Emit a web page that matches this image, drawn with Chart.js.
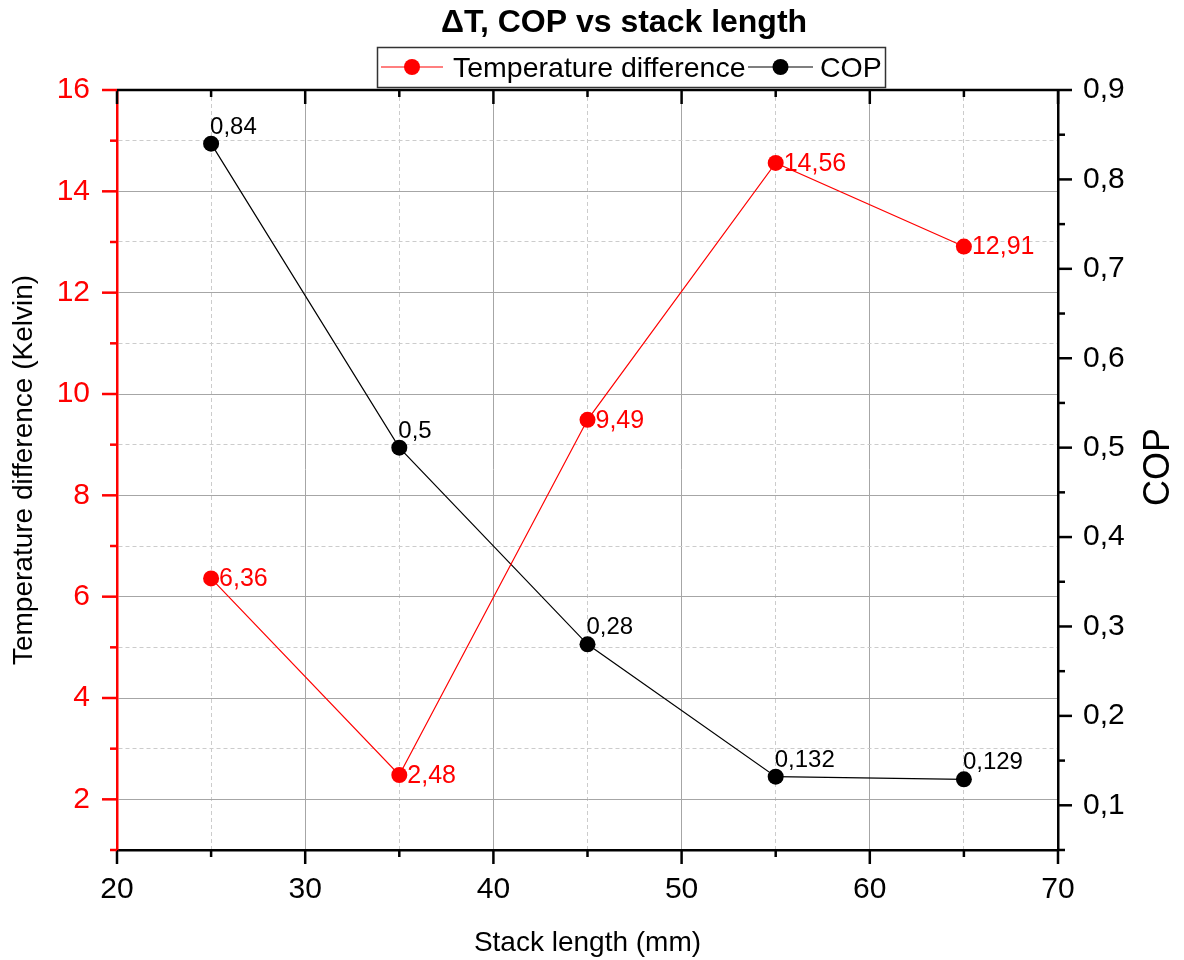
<!DOCTYPE html>
<html>
<head>
<meta charset="utf-8">
<title>dT, COP vs stack length</title>
<script src="https://cdn.jsdelivr.net/npm/chart.js@4.4.0/dist/chart.umd.min.js"></script>
<style>
  body { margin: 0; background: #fff; }
  #wrap { width: 1184px; height: 960px; }
</style>
</head>
<body>
<div id="wrap"><canvas id="chart" width="1184" height="960"></canvas></div>
<script>
'use strict'

// data
const stackLength = [25, 35, 45, 55, 65];
const tempDiff = [6.36, 2.48, 9.49, 14.56, 12.91];
const cop = [0.84, 0.5, 0.28, 0.132, 0.129];

const seriesNames = ['Temperature difference', 'COP'];
const chartTitle = '\u0394T, COP vs stack length';
const xRange = [20, 70];
const tempRange = [1, 16];
const copRange = [0.05, 0.9];

const FONT = "'Liberation Sans', Arial, sans-serif";
Chart.defaults.font.family = FONT;

const majorGrid = '#a6a6a6';
const minorGrid = '#cccccc';

const toComma = (v) => String(v).replace('.', ',');

// gridline look for major / minor ticks
function gridColor(isMajor) {
  return (c) => (c.tick && !isMajor(c.tick.value) ? minorGrid : majorGrid);
}
function gridDash(isMajor) {
  return (c) => (c.tick && !isMajor(c.tick.value) ? [4, 3] : []);
}

const xMajor = (v) => v % 10 === 0;
const yMajor = (v) => v % 2 === 0;
const y1Major = (v) => Math.round(v * 100) % 10 === 0;

// title, tick marks, top frame, legend box and right title
const decor = {
  id: 'decor',
  afterDraw(chart) {
    const {ctx, chartArea: a, scales} = chart;
    ctx.save();

    // title (sits a bit right of centre in the original)
    ctx.font = 'bold 32px ' + FONT;
    ctx.fillStyle = '#000';
    ctx.textAlign = 'center';
    ctx.textBaseline = 'middle';
    ctx.fillText(chartTitle, 624, 23);

    ctx.lineWidth = 2.5;
    const line = (x1, y1, x2, y2, color) => {
      ctx.strokeStyle = color;
      ctx.beginPath();
      ctx.moveTo(x1, y1);
      ctx.lineTo(x2, y2);
      ctx.stroke();
    };
    line(a.left, a.top, a.right, a.top, '#000');

    scales.x.ticks.forEach(t => {
      const px = scales.x.getPixelForValue(t.value);
      const len = xMajor(t.value) ? 14 : 7;
      line(px, a.bottom, px, a.bottom + len, '#000');
      line(px, a.top, px, a.top + len, '#000');
    });
    scales.y.ticks.forEach(t => {
      const py = scales.y.getPixelForValue(t.value);
      const len = yMajor(t.value) ? 15 : 7;
      line(a.left - len, py, a.left, py, '#ff0000');
    });
    scales.y1.ticks.forEach(t => {
      const py = scales.y1.getPixelForValue(t.value);
      const len = y1Major(t.value) ? 14 : 7;
      line(a.right, py, a.right + len, py, '#000');
    });

    // legend
    ctx.lineWidth = 1.5;
    ctx.strokeStyle = '#333';
    ctx.strokeRect(377.5, 47.5, 508, 40);
    const items = [
      {x0: 381, x1: 443, text: 453},
      {x0: 748, x1: 813, text: 820},
    ];
    ctx.font = '28.5px ' + FONT;
    ctx.textBaseline = 'alphabetic';
    ctx.textAlign = 'left';
    chart.data.datasets.forEach((ds, i) => {
      const it = items[i];
      ctx.lineWidth = 1.2;
      line(it.x0, 67, it.x1, 67, ds.borderColor);
      ctx.fillStyle = ds.pointBackgroundColor;
      ctx.beginPath();
      ctx.arc((it.x0 + it.x1) / 2, 67, 8, 0, Math.PI * 2);
      ctx.fill();
      ctx.fillStyle = '#000';
      ctx.fillText(ds.label, it.text, 77);
    });

    // right axis title
    ctx.translate(1159, 467);
    ctx.rotate(-Math.PI / 2);
    ctx.font = '36px ' + FONT;
    ctx.textAlign = 'center';
    ctx.textBaseline = 'middle';
    ctx.fillStyle = '#000';
    ctx.fillText('COP', 0, 0);
    ctx.restore();
  }
};

// value labels beside each point
const pointLabels = {
  id: 'pointLabels',
  afterDatasetsDraw(chart) {
    const ctx = chart.ctx;
    ctx.save();
    ctx.textAlign = 'left';
    chart.data.datasets.forEach((ds, i) => {
      const meta = chart.getDatasetMeta(i);
      meta.data.forEach((el, j) => {
        const txt = toComma(ds.data[j].y);
        ctx.fillStyle = ds.borderColor;
        if (i === 0) {
          ctx.font = '25px ' + FONT;
          ctx.textBaseline = 'middle';
          ctx.fillText(txt, el.x + 8, el.y + 1);
        } else {
          ctx.font = '24px ' + FONT;
          ctx.textBaseline = 'alphabetic';
          ctx.fillText(txt, el.x - 1, el.y - 10);
        }
      });
    });
    ctx.restore();
  }
};

const chartEl = document.getElementById('chart');

new Chart(chartEl, {
  type: 'line',
  data: {
    datasets: [
      {
        label: seriesNames[0],
        data: stackLength.map((x, i) => ({x: x, y: tempDiff[i]})),
        yAxisID: 'y',
        borderColor: '#ff0000',
        backgroundColor: '#ff0000',
        pointBackgroundColor: '#ff0000',
        borderWidth: 1.2,
        pointRadius: 8,
        pointBorderWidth: 0,
      },
      {
        label: seriesNames[1],
        data: stackLength.map((x, i) => ({x: x, y: cop[i]})),
        yAxisID: 'y1',
        borderColor: '#000000',
        backgroundColor: '#000000',
        pointBackgroundColor: '#000000',
        borderWidth: 1.2,
        pointRadius: 8,
        pointBorderWidth: 0,
      },
    ]
  },
  options: {
    responsive: false,
    animation: false,
    layout: { padding: { top: 90, left: 0, right: 0, bottom: 0 } },
    plugins: {
      legend: { display: false },
      tooltip: { enabled: false },
      title: { display: false },
    },
    scales: {
      x: {
        type: 'linear',
        position: 'bottom',
        min: xRange[0],
        max: xRange[1],
        afterFit: (s) => { s.height = 110; },
        ticks: {
          stepSize: 5,
          autoSkip: false,
          maxRotation: 0,
          padding: 22,
          color: '#000',
          font: { size: 30 },
          callback: (v) => (xMajor(v) ? String(v) : ''),
        },
        grid: {
          drawTicks: false,
          color: gridColor(xMajor),
          lineWidth: 1,
        },
        border: { display: true, color: '#000', width: 2.5, dash: gridDash(xMajor) },
        title: {
          display: true,
          text: 'Stack length (mm)',
          color: '#000',
          font: { size: 28 },
          padding: { top: 0, bottom: 0 },
        },
      },
      y: {
        type: 'linear',
        position: 'left',
        min: tempRange[0],
        max: tempRange[1],
        afterFit: (s) => { s.width = 117; },
        ticks: {
          stepSize: 1,
          autoSkip: false,
          padding: 27,
          color: '#ff0000',
          font: { size: 30 },
          callback: (v) => (yMajor(v) ? String(v) : ''),
        },
        grid: {
          drawTicks: false,
          color: gridColor(yMajor),
          lineWidth: 1,
        },
        border: { display: true, color: '#ff0000', width: 2.5, dash: gridDash(yMajor) },
        title: {
          display: true,
          text: 'Temperature difference (Kelvin)',
          color: '#000',
          font: { size: 28 },
          padding: { top: 7, bottom: 0 },
        },
      },
      y1: {
        type: 'linear',
        position: 'right',
        min: copRange[0],
        max: copRange[1],
        afterFit: (s) => { s.width = 126; },
        ticks: {
          stepSize: 0.05,
          autoSkip: false,
          padding: 25,
          color: '#000',
          font: { size: 30 },
          callback: (v) => (y1Major(v) ? v.toFixed(1).replace('.', ',') : ''),
        },
        grid: {
          drawTicks: false,
          drawOnChartArea: false,
        },
        border: { display: true, color: '#000', width: 2.5 },
      },
    }
  },
  plugins: [pointLabels, decor],
});
</script>
</body>
</html>
